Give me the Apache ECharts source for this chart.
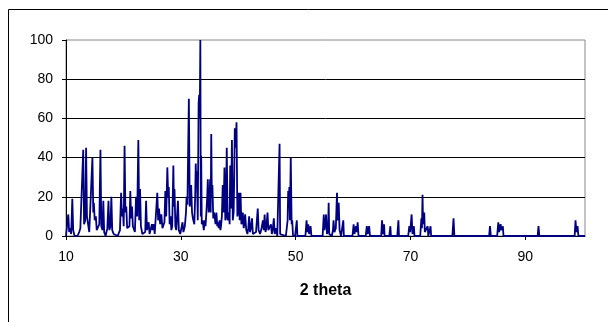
<!DOCTYPE html>
<html>
<head>
<meta charset="utf-8">
<script src="https://cdn.jsdelivr.net/npm/echarts@6/dist/echarts.min.js"></script>
<style>
    html, body {
        margin: 0;
        padding: 0;
        background: #fff;
    }

    #xrd {
        width: 608px;
        height: 322px;
    }
</style>
</head>
<body>
<div id="xrd"></div>
<script>
    // diffraction pattern (2 theta in degrees, relative intensity)
    const twoTheta = [
        10.0, 10.2, 10.4, 10.55, 10.7, 10.9, 11.1, 11.25, 11.5, 12.0, 12.3, 12.5, 12.8, 13.0, 13.15, 13.35, 13.5, 13.65, 13.9, 14.05,
        14.3, 14.6, 14.75, 14.85, 15.0, 15.2, 15.35, 15.6, 15.8, 16.0, 16.15, 16.35, 16.5, 16.65, 16.9, 17.2, 17.4, 17.55, 17.75, 17.9,
        18.05, 18.3, 18.6, 19.0, 19.4, 19.6, 19.75, 19.9, 20.05, 20.2, 20.35, 20.5, 20.65, 20.9, 21.05, 21.2, 21.35, 21.5, 21.65, 21.8,
        22.0, 22.2, 22.4, 22.6, 22.75, 22.9, 23.05, 23.3, 23.6, 23.8, 23.95, 24.1, 24.3, 24.4, 24.55, 24.8, 24.96, 25.1, 25.3, 25.45,
        25.6, 25.9, 26.05, 26.2, 26.4, 26.6, 26.8, 27.0, 27.15, 27.3, 27.45, 27.65, 27.8, 27.9, 28.05, 28.2, 28.35, 28.5, 28.7, 28.8,
        28.9, 29.05, 29.2, 29.5, 29.65, 29.9, 30.1, 30.3, 30.45, 30.7, 30.9, 31.0, 31.15, 31.4, 31.55, 31.7, 31.8, 31.95, 32.1, 32.2,
        32.35, 32.5, 32.6, 32.7, 32.8, 32.95, 33.1, 33.2, 33.3, 33.4, 33.48, 33.55, 33.65, 33.8, 34.0, 34.15, 34.3, 34.45, 34.6, 34.7,
        34.85, 35.0, 35.1, 35.2, 35.3, 35.4, 35.5, 35.65, 35.8, 35.9, 36.05, 36.2, 36.35, 36.5, 36.6, 36.75, 36.9, 37.0, 37.15, 37.3,
        37.45, 37.6, 37.75, 37.85, 38.0, 38.15, 38.3, 38.4, 38.5, 38.6, 38.75, 38.9, 39.05, 39.2, 39.3, 39.4, 39.55, 39.7, 39.85, 39.95,
        40.1, 40.25, 40.4, 40.55, 40.7, 40.8, 40.95, 41.05, 41.2, 41.4, 41.6, 41.75, 41.9, 42.05, 42.2, 42.4, 42.55, 42.8, 43.1, 43.4,
        43.55, 43.8, 44.0, 44.3, 44.45, 44.6, 44.75, 44.9, 45.1, 45.25, 45.45, 45.7, 45.85, 46.0, 46.2, 46.35, 46.6, 46.8, 47.1, 47.2,
        47.3, 47.5, 48.3, 48.6, 48.7, 48.85, 48.9, 49.0, 49.15, 49.3, 49.4, 49.55, 49.9, 50.1, 50.2, 50.3, 51.7, 51.9, 52.05, 52.2,
        52.35, 52.6, 52.75, 54.7, 54.9, 55.0, 55.15, 55.3, 55.45, 55.65, 55.75, 55.85, 56.3, 56.5, 56.6, 56.75, 57.0, 57.2, 57.3, 57.5,
        57.65, 57.9, 58.2, 58.3, 58.4, 59.9, 60.1, 60.25, 60.5, 60.65, 60.8, 60.95, 62.2, 62.4, 62.55, 62.8, 62.95, 64.9, 65.05, 65.2,
        65.4, 65.5, 66.3, 66.5, 66.6, 67.7, 67.9, 68.0, 69.6, 69.8, 69.95, 70.2, 70.35, 70.6, 70.7, 71.7, 71.9, 72.0, 72.1, 72.2,
        72.4, 72.5, 72.7, 73.0, 73.1, 73.4, 73.5, 73.6, 77.3, 77.5, 77.65, 83.7, 83.85, 84.0, 85.1, 85.3, 85.45, 85.7, 85.85, 86.1,
        86.2, 92.15, 92.3, 92.45, 98.6, 98.75, 98.9, 99.1, 99.25, 100.4
    ];
    const intensity = [
        0, 1, 11, 2, 4, 1, 19, 3, 0, 0, 2, 4, 5, 44, 6, 8, 45, 10, 11, 2,
        1, 40, 12, 17, 8, 10, 3, 2, 6, 44, 5, 3, 18, 2, 0, 4, 18, 3, 5, 20,
        3, 1, 0, 0, 3, 22, 10, 14, 5, 46, 12, 15, 4, 3, 5, 23, 9, 15, 5, 4,
        2, 20, 10, 49, 8, 24, 5, 1, 0, 2, 18, 3, 2, 7, 1, 0, 6, 3, 6, 1,
        2, 22, 8, 14, 6, 11, 4, 3, 7, 23, 10, 35, 20, 25, 6, 10, 3, 5, 36, 15,
        24, 5, 3, 18, 3, 1, 2, 7, 2, 5, 12, 20, 16, 70, 15, 20, 26, 12, 9, 10,
        6, 20, 37, 25, 33, 8, 68, 72, 60, 100, 10, 41, 6, 8, 3, 8, 5, 12, 20, 29,
        12, 18, 29, 12, 52, 20, 26, 9, 12, 13, 6, 12, 5, 7, 4, 8, 3, 5, 10, 26,
        12, 35, 8, 10, 45, 8, 10, 12, 6, 36, 14, 49, 8, 12, 30, 55, 45, 58, 10, 12,
        22, 8, 22, 6, 8, 12, 4, 6, 11, 3, 1, 4, 10, 2, 4, 9, 1, 0, 2, 14,
        3, 1, 3, 8, 3, 11, 2, 4, 12, 3, 2, 6, 1, 3, 9, 1, 4, 0, 1, 47,
        1, 0, 0, 8, 23, 20, 25, 8, 40, 6, 8, 0, 0, 1, 8, 0, 0, 8, 2, 6,
        1, 5, 0, 0, 11, 3, 5, 11, 1, 3, 17, 1, 0, 3, 8, 2, 4, 22, 8, 17,
        3, 0, 1, 8, 0, 0, 6, 1, 5, 2, 7, 0, 0, 5, 1, 5, 0, 0, 8, 1,
        6, 0, 0, 5, 0, 0, 8, 0, 0, 5, 2, 11, 1, 5, 0, 0, 9, 4, 21, 6,
        12, 2, 1, 5, 0, 0, 5, 0, 0, 9, 0, 0, 5, 0, 0, 7, 2, 6, 3, 5,
        0, 0, 5, 0, 0, 8, 2, 5, 0, 0
    ];
    const xTicks = [10, 30, 50, 70, 90];
    const yTicks = [0, 20, 40, 60, 80, 100];

    const points = [];
    for (let i = 0; i < twoTheta.length; i++) {
        points.push([twoTheta[i], intensity[i]]);
    }

    const font = 'Arial, "Liberation Sans", sans-serif';
    const chart = echarts.init(document.getElementById('xrd'), null, {renderer: 'canvas'});
    chart.setOption({
        animation: false,
        backgroundColor: '#fff',
        graphic: [
            {
                // outer chart frame, it runs off the right and bottom edges
                type: 'rect',
                shape: {x: 8.5, y: 9.5, width: 640, height: 340},
                style: {fill: 'none', stroke: '#000', lineWidth: 1}
            }
        ],
        grid: {
            left: 66,
            top: 40,
            right: 23,
            bottom: 86,
            show: true,
            borderColor: '#888',
            borderWidth: 1
        },
        xAxis: {
            type: 'value',
            min: 10,
            max: 100.4,
            name: '2 theta',
            nameLocation: 'middle',
            nameGap: 47,
            nameTextStyle: {
                fontFamily: font,
                fontWeight: 'bold',
                fontSize: 16,
                color: '#000'
            },
            axisLine: {lineStyle: {color: '#000', width: 1}},
            axisTick: {show: true, length: 4, inside: false, customValues: xTicks, lineStyle: {color: '#000'}},
            axisLabel: {
                customValues: xTicks,
                margin: 14,
                fontFamily: font,
                fontSize: 14,
                color: '#000'
            },
            splitLine: {show: false}
        },
        yAxis: {
            type: 'value',
            min: yTicks[0],
            max: yTicks[yTicks.length - 1],
            interval: 20,
            axisLine: {show: true, lineStyle: {color: '#000', width: 1}},
            axisTick: {show: true, length: 4, lineStyle: {color: '#000'}},
            axisLabel: {
                margin: 13,
                fontFamily: font,
                fontSize: 14,
                color: '#000'
            },
            splitLine: {
                show: true,
                showMaxLine: false,
                lineStyle: {color: '#000', width: 1}
            }
        },
        series: [
            {
                name: 'intensity',
                type: 'line',
                data: points,
                showSymbol: false,
                symbol: 'none',
                lineStyle: {color: '#000080', width: 1.8}
            }
        ]
    });
</script>
</body>
</html>
